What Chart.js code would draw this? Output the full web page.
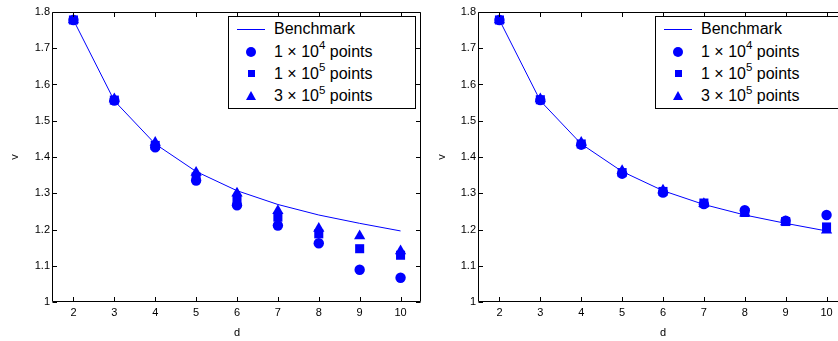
<!DOCTYPE html>
<html>
<head>
<meta charset="utf-8">
<script src="https://cdn.jsdelivr.net/npm/chart.js@4.4.1/dist/chart.umd.min.js"></script>
<style>
    body { margin: 0; width: 838px; height: 341px; overflow: hidden; background: #fff; position: relative; font-family: "Liberation Sans", Arial, sans-serif; }
    .panel { position: absolute; top: 0; width: 430px; height: 341px; }
    #leftPanel { left: 0; }
    #rightPanel { left: 430px; }
    .legend { position: absolute; top: 16px; width: 186px; height: 91px; border: 1px solid #000; background: #fff; }
    .row { position: absolute; left: 0; width: 186px; height: 22px; line-height: 22px; font-size: 16px; color: #000; white-space: nowrap; }
    .row .txt { position: absolute; left: 45px; top: 0; }
    .row sup { font-size: 11.5px; vertical-align: baseline; position: relative; top: -7.5px; }
    .mk { position: absolute; }
    .mk.line { left: 8px; top: 11px; width: 28px; border-top: 1px solid #0000ff; }
    .mk.circle { left: 17px; top: 6px; width: 10px; height: 10px; border-radius: 50%; background: #0000ff; }
    .mk.square { left: 18.5px; top: 7.5px; width: 7px; height: 7px; background: #0000ff; }
    .mk.triangle { left: 16.5px; top: 6px; width: 0; height: 0; border-left: 5.5px solid transparent; border-right: 5.5px solid transparent; border-bottom: 9.5px solid #0000ff; }
</style>
</head>
<body>
<div class="panel" id="leftPanel">
    <canvas id="leftChart" width="430" height="341"></canvas>
    <div class="legend" style="left: 228px;">
        <div class="row" style="top: 0.6px;"><span class="mk line"></span><span class="txt">Benchmark</span></div>
        <div class="row" style="top: 23.5px;"><span class="mk circle"></span><span class="txt">1 × 10<sup>4</sup> points</span></div>
        <div class="row" style="top: 45.8px;"><span class="mk square"></span><span class="txt">1 × 10<sup>5</sup> points</span></div>
        <div class="row" style="top: 68.2px;"><span class="mk triangle"></span><span class="txt">3 × 10<sup>5</sup> points</span></div>
    </div>
</div>
<div class="panel" id="rightPanel">
    <canvas id="rightChart" width="430" height="341"></canvas>
    <div class="legend" style="left: 225px;">
        <div class="row" style="top: 0.6px;"><span class="mk line"></span><span class="txt">Benchmark</span></div>
        <div class="row" style="top: 23.5px;"><span class="mk circle"></span><span class="txt">1 × 10<sup>4</sup> points</span></div>
        <div class="row" style="top: 45.8px;"><span class="mk square"></span><span class="txt">1 × 10<sup>5</sup> points</span></div>
        <div class="row" style="top: 68.2px;"><span class="mk triangle"></span><span class="txt">3 × 10<sup>5</sup> points</span></div>
    </div>
</div>
<script>
// Dimensions d on the x axis
const dims = [2, 3, 4, 5, 6, 7, 8, 9, 10];
const xTicks = [2, 3, 4, 5, 6, 7, 8, 9, 10];
const yTicks = [1, 1.1, 1.2, 1.3, 1.4, 1.5, 1.6, 1.7, 1.8];

// Benchmark curve (same on both panels)
const benchmark = [1.778, 1.555, 1.436, 1.360, 1.307, 1.269, 1.240, 1.217, 1.196];

// Left panel values
const leftPts1e4 = [1.778, 1.556, 1.427, 1.335, 1.267, 1.211, 1.162, 1.089, 1.067];
const leftPts1e5 = [1.778, 1.557, 1.432, 1.345, 1.283, 1.234, 1.188, 1.147, 1.129];
const leftPts3e5 = [1.778, 1.560, 1.440, 1.357, 1.300, 1.252, 1.203, 1.182, 1.141];

// Right panel values
const rightPts1e4 = [1.778, 1.557, 1.434, 1.354, 1.302, 1.270, 1.253, 1.224, 1.240];
const rightPts1e5 = [1.778, 1.558, 1.436, 1.357, 1.305, 1.273, 1.247, 1.222, 1.207];
const rightPts3e5 = [1.778, 1.560, 1.440, 1.362, 1.308, 1.271, 1.245, 1.221, 1.198];

const blue = '#0000ff';
Chart.defaults.font.family = '"Liberation Sans", Arial, sans-serif';
Chart.defaults.color = '#000';

// pair up d with a series
function pairs(xs, ys) {
    return xs.map((x, i) => ({ x: x, y: ys[i] }));
}

// MATLAB-like box with inward ticks on all four sides
const framePlugin = {
    id: 'frame',
    afterDatasetsDraw(chart) {
        const ctx = chart.ctx;
        const a = chart.chartArea;
        const xs = chart.scales.x, ys = chart.scales.y;
        const L = Math.round(a.left) - 0.5, R = Math.round(a.right) - 0.5;
        const T = Math.round(a.top) + 0.5, B = Math.round(a.bottom) - 0.5;
        const len = 4.5;
        ctx.save();
        ctx.strokeStyle = '#000';
        ctx.lineWidth = 1;
        ctx.beginPath();
        ctx.rect(L, T, R - L, B - T);
        xs.ticks.forEach(t => {
            const px = Math.round(xs.getPixelForValue(t.value)) + 0.5;
            ctx.moveTo(px, B); ctx.lineTo(px, B - len);
            ctx.moveTo(px, T); ctx.lineTo(px, T + len);
        });
        ys.ticks.forEach(t => {
            const py = Math.round(ys.getPixelForValue(t.value)) + 0.5;
            ctx.moveTo(L, py); ctx.lineTo(L + len, py);
            ctx.moveTo(R, py); ctx.lineTo(R - len, py);
        });
        ctx.stroke();
        ctx.restore();
    }
};

function makeChart(id, p1, p2, p3, axisWidth, padRight, vPad) {
    return new Chart(document.getElementById(id), {
        type: 'scatter',
        data: {
            datasets: [
                { label: 'Benchmark', type: 'line', data: pairs(dims, benchmark), borderColor: blue, borderWidth: 1, pointRadius: 0, fill: false, order: 4 },
                { label: '1e4', data: pairs(dims, p1), pointStyle: 'circle', pointRadius: 5.2, pointBackgroundColor: blue, pointBorderWidth: 0, order: 3 },
                { label: '1e5', data: pairs(dims, p2), pointStyle: 'rect', pointRadius: 6.4, pointBackgroundColor: blue, pointBorderWidth: 0, order: 2 },
                { label: '3e5', data: pairs(dims, p3), pointStyle: 'triangle', pointRadius: 6.5, pointBackgroundColor: blue, pointBorderWidth: 0, order: 1 }
            ]
        },
        options: {
            responsive: false,
            animation: false,
            events: [],
            layout: { padding: { left: 0, top: 12, right: padRight, bottom: 0 } },
            plugins: { legend: { display: false }, tooltip: { enabled: false } },
            scales: {
                x: {
                    type: 'linear', min: 1.5, max: 10.5,
                    grid: { display: false, drawTicks: false },
                    border: { display: false },
                    afterBuildTicks: s => { s.ticks = xTicks.map(v => ({ value: v })); },
                    afterFit: s => { s.height = 39; },
                    ticks: { padding: 4, font: { size: 11 }, color: '#000', callback: v => String(v) },
                    title: { display: true, text: 'd', font: { size: 11 }, color: '#000', padding: { top: 0, bottom: 1 } }
                },
                y: {
                    type: 'linear', min: 1, max: 1.8,
                    grid: { display: false, drawTicks: false },
                    border: { display: false },
                    afterBuildTicks: s => { s.ticks = yTicks.map(v => ({ value: v })); },
                    afterFit: s => { s.width = axisWidth; },
                    ticks: { padding: 3, font: { size: 11 }, color: '#000', callback: v => String(v) },
                    title: { display: true, text: 'v', font: { size: 11 }, color: '#000', padding: { top: vPad, bottom: 0 } }
                }
            }
        },
        plugins: [framePlugin]
    });
}

var leftChart = makeChart('leftChart', leftPts1e4, leftPts1e5, leftPts3e5, 53, 9, 8.4);
var rightChart = makeChart('rightChart', rightPts1e4, rightPts1e5, rightPts3e5, 49, 13, 5.1);
</script>
</body>
</html>
